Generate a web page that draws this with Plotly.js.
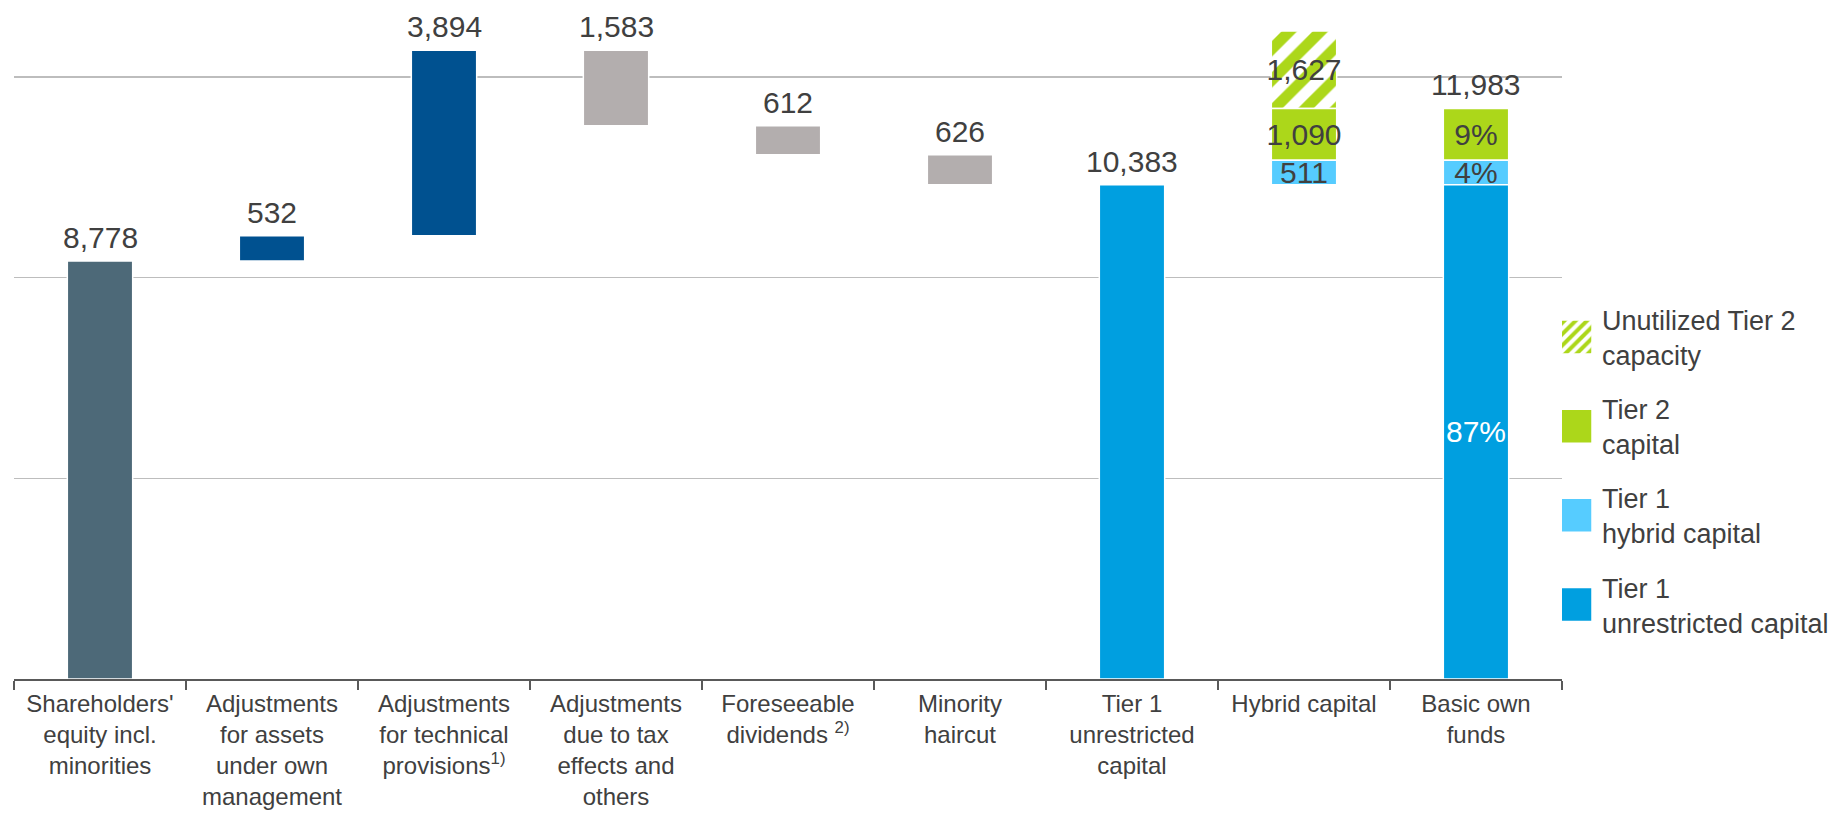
<!DOCTYPE html>
<html>
<head>
<meta charset="utf-8">
<script src="https://cdn.plot.ly/plotly-3.0.1.min.js"></script>
<style>
  html, body { margin: 0; padding: 0; background: #ffffff; }
  #chart { width: 1845px; height: 813px; }
</style>
</head>
<body>
<div id="chart"></div>
<script>
// ---------- data ----------
const categories = [
  "Shareholders'<br>equity incl.<br>minorities",
  "Adjustments<br>for assets<br>under own<br>management",
  "Adjustments<br>for technical<br>provisions<sup>1)</sup>",
  "Adjustments<br>due to tax<br>effects and<br>others",
  "Foreseeable<br>dividends <sup>2)</sup>",
  "Minority<br>haircut",
  "Tier 1<br>unrestricted<br>capital",
  "Hybrid capital",
  "Basic own<br>funds"
];
const shareholdersEquity = 8778;
const increaseValues = [532, 3894];          // assets under own mgmt, technical provisions
const decreaseValues = [1583, 612, 626];     // tax effects, dividends, minority haircut
const tier1Unrestricted = 10383;
const tier1Hybrid = 511;
const tier2Capital = 1090;
const unutilizedTier2 = 1627;
const basicOwnFunds = 11983;
const basicOwnFundsShares = ["87%", "4%", "9%"]; // T1 unrestricted, T1 hybrid, T2
const legendNames = [
  "Unutilized Tier 2<br>capacity",
  "Tier 2<br>capital",
  "Tier 1<br>hybrid capital",
  "Tier 1<br>unrestricted capital"
];

// ---------- styling ----------
const C = {
  equity: "#4d6978",
  increase: "#005190",
  decrease: "#b3aeae",
  t1u: "#009fe0",
  t1h: "#56ccff",
  t2: "#acd71a",
  text: "#404040",
  axis: "#595959",
  grid: "#bdbdbd"
};
const FONT = "Liberation Sans, Arial, sans-serif";
const fmt = v => v.toLocaleString("en-US");
const barLine = { color: "#ffffff", width: 1.5 };
const labelFont = { family: FONT, size: 30, color: C.text };

// waterfall bases
let running = shareholdersEquity;
const incBases = increaseValues.map(v => { const b = running; running += v; return b; });
const decBases = decreaseValues.map(v => { running -= v; return running; });

const common = {
  type: "bar",
  textangle: 0,
  constraintext: "none",
  cliponaxis: false,
  hoverinfo: "skip"
};

const traces = [
  Object.assign({}, common, {
    name: legendNames[0], legendgroup: "g1", showlegend: true,
    x: [categories[7]], y: [unutilizedTier2],
    base: [tier1Unrestricted + tier1Hybrid + tier2Capital],
    marker: { color: "#ffffff", line: barLine,
      pattern: { shape: "/", fgcolor: C.t2, bgcolor: "#ffffff", size: 22, solidity: 0.5 } },
    text: [fmt(unutilizedTier2)], textposition: "inside", insidetextanchor: "middle",
    textfont: labelFont
  }),
  Object.assign({}, common, {
    name: legendNames[1], legendgroup: "g2", showlegend: true,
    x: [categories[7], categories[8]], y: [tier2Capital, tier2Capital],
    base: [tier1Unrestricted + tier1Hybrid, tier1Unrestricted + tier1Hybrid],
    marker: { color: C.t2, line: barLine },
    text: [fmt(tier2Capital), basicOwnFundsShares[2]], textposition: "inside", insidetextanchor: "middle",
    textfont: labelFont
  }),
  Object.assign({}, common, {
    name: legendNames[2], legendgroup: "g3", showlegend: true,
    x: [categories[7], categories[8]], y: [tier1Hybrid, tier1Hybrid],
    base: [tier1Unrestricted, tier1Unrestricted],
    marker: { color: C.t1h, line: barLine },
    text: [fmt(tier1Hybrid), basicOwnFundsShares[1]], textposition: "inside", insidetextanchor: "middle",
    textfont: labelFont
  }),
  Object.assign({}, common, {
    name: legendNames[3], legendgroup: "g4", showlegend: true,
    x: [categories[8]], y: [tier1Unrestricted], base: [0],
    marker: { color: C.t1u, line: barLine },
    text: [basicOwnFundsShares[0]],
    textposition: "inside", insidetextanchor: "middle",
    textfont: { family: FONT, size: 30, color: "#ffffff" }
  }),
  Object.assign({}, common, {
    name: "tier1 unrestricted (subtotal)", legendgroup: "g4", showlegend: false,
    x: [categories[6]], y: [tier1Unrestricted], base: [0],
    marker: { color: C.t1u, line: barLine }
  }),
  Object.assign({}, common, {
    name: "equity", showlegend: false,
    x: [categories[0]], y: [shareholdersEquity], base: [0],
    marker: { color: C.equity, line: barLine }
  }),
  Object.assign({}, common, {
    name: "increases", showlegend: false,
    x: categories.slice(1, 3), y: increaseValues, base: incBases,
    marker: { color: C.increase, line: barLine }
  }),
  Object.assign({}, common, {
    name: "decreases", showlegend: false,
    x: categories.slice(3, 6), y: decreaseValues, base: decBases,
    marker: { color: C.decrease, line: barLine }
  })
];

// value labels above bars (positions from the data)
const topLabels = [
  { x: categories[0], top: shareholdersEquity, v: shareholdersEquity },
  ...increaseValues.map((v, i) => ({ x: categories[1 + i], top: incBases[i] + v, v })),
  ...decreaseValues.map((v, i) => ({ x: categories[3 + i], top: decBases[i] + v, v })),
  { x: categories[6], top: tier1Unrestricted, v: tier1Unrestricted },
  { x: categories[8], top: tier1Unrestricted + tier1Hybrid + tier2Capital, v: basicOwnFunds }
];
const annotations = topLabels.map(d => ({
  x: d.x, y: d.top, xref: "x", yref: "y",
  text: fmt(d.v), showarrow: false, xanchor: "center", yanchor: "bottom", yshift: 5,
  font: labelFont
}));

const layout = {
  width: 1845, height: 813,
  margin: { l: 14, r: 283, t: 0, b: 134 },
  paper_bgcolor: "#ffffff", plot_bgcolor: "#ffffff",
  barmode: "overlay",
  bargap: 0.62,
  font: { family: FONT, color: C.text, size: 26 },
  showlegend: true,
  annotations: annotations,
  legend: {
    x: 1.0, xanchor: "left", y: 0.565, yanchor: "top",
    traceorder: "grouped", tracegroupgap: 16,
    font: { family: FONT, size: 27, color: C.text },
    itemwidth: 30, valign: "middle",
    bgcolor: "rgba(0,0,0,0)"
  },
  xaxis: {
    type: "category",
    categoryorder: "array", categoryarray: categories,
    range: [-0.5, 8.5],
    showline: true, linecolor: C.axis, linewidth: 2,
    ticks: "outside", tickson: "boundaries", ticklen: 9, tickwidth: 2, tickcolor: C.axis,
    tickfont: { family: FONT, size: 24, color: C.text },
    ticklabelstandoff: 2,
    showgrid: false, zeroline: false, fixedrange: true
  },
  yaxis: {
    range: [0, 14262],
    tick0: 0, dtick: 4215,
    showgrid: true, gridcolor: C.grid, gridwidth: 1.5,
    showticklabels: false, ticks: "", showline: false, zeroline: false, fixedrange: true
  }
};

Plotly.newPlot("chart", traces, layout, { displayModeBar: false, staticPlot: true }).then(gd => {
  // larger legend swatches, as in the reference
  gd.querySelectorAll(".legend .legendpoints path").forEach(p => {
    p.setAttribute("d", "M10,17H-21V-17H10Z");
  });
});
</script>
</body>
</html>
